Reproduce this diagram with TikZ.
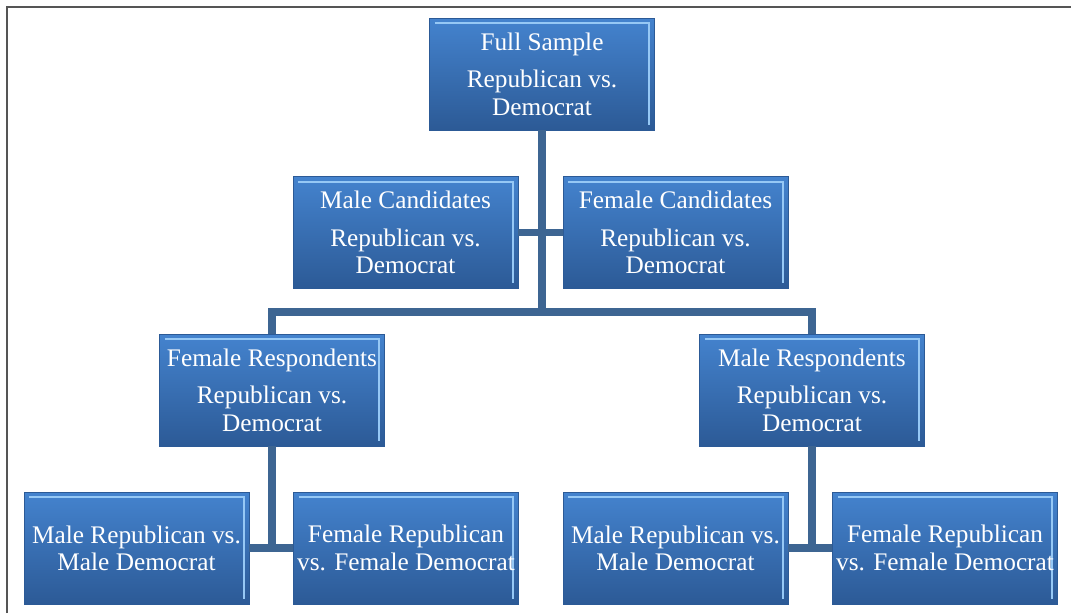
\documentclass[tikz,border=0pt]{standalone}
\usepackage{fontspec}
\setmainfont{Liberation Serif}
\usetikzlibrary{positioning}

\definecolor{boxtop}{RGB}{68,131,206}
\definecolor{boxbot}{RGB}{44,90,150}
\definecolor{boxedge}{RGB}{150,200,245}
\definecolor{linkblue}{RGB}{61,101,146}
\definecolor{framegray}{RGB}{85,85,85}

\tikzset{
    groupbox/.style={
        rectangle,
        minimum width=4.5cm,
        minimum height=2.24cm,
        inner sep=1pt,
        top color=boxtop,
        bottom color=boxbot,
        draw=boxbot,
        line width=0.4pt,
        text=white,
        align=center,
        font=\fontsize{14.4}{15.5}\selectfont,
        path picture={
            \draw[boxedge, line width=1.2pt]
                ([xshift=3pt,yshift=-3pt]path picture bounding box.north west)
                -- ([xshift=-3pt,yshift=-3pt]path picture bounding box.north east)
                -- ([xshift=-3pt,yshift=3pt]path picture bounding box.south east);
        },
    },
    link/.style={linkblue, line width=4pt},
}

\begin{document}
\begin{tikzpicture}[x=0.02cm, y=-0.02cm]
    \useasboundingbox (0,0) rectangle (1071,613);
    % frame
    \draw[framegray, line width=0.6pt] (7,613) -- (7,7) -- (1071,7);

    % top level
    \node[groupbox] (full) at (542,74)
        {Full Sample\\[6pt] Republican vs.\\ Democrat};
    % candidates
    \node[groupbox] (malecand) at (405.5,232.5)
        {Male Candidates\\[6pt] Republican vs.\\ Democrat};
    \node[groupbox] (femcand) at (675.5,232.5)
        {Female Candidates\\[6pt] Republican vs.\\ Democrat};
    % respondents
    \node[groupbox] (femresp) at (272,390)
        {Female Respondents\\[6pt] Republican vs.\\ Democrat};
    \node[groupbox] (maleresp) at (812,390)
        {Male Respondents\\[6pt] Republican vs.\\ Democrat};
    % bottom row
    \node[groupbox] (lmale) at (136.5,548)
        {Male Republican vs.\\ Male Democrat};
    \node[groupbox] (lfemale) at (406,548)
        {Female Republican\\ vs. Female Democrat};
    \node[groupbox] (rmale) at (675.5,548)
        {Male Republican vs.\\ Male Democrat};
    \node[groupbox] (rfemale) at (945,548)
        {Female Republican\\ vs. Female Democrat};

    \coordinate (split) at (542,312);

    % connectors
    \draw[link] (full.south) -- (split);
    \draw[link] (malecand.east) -- (femcand.west);
    \draw[link] (femresp.north) |- (split) -| (maleresp.north);
    \draw[link] (femresp.south) |- (lmale.east);
    \draw[link] (lmale.east) -- (lfemale.west);
    \draw[link] (maleresp.south) |- (rmale.east);
    \draw[link] (rmale.east) -- (rfemale.west);
\end{tikzpicture}
\end{document}
